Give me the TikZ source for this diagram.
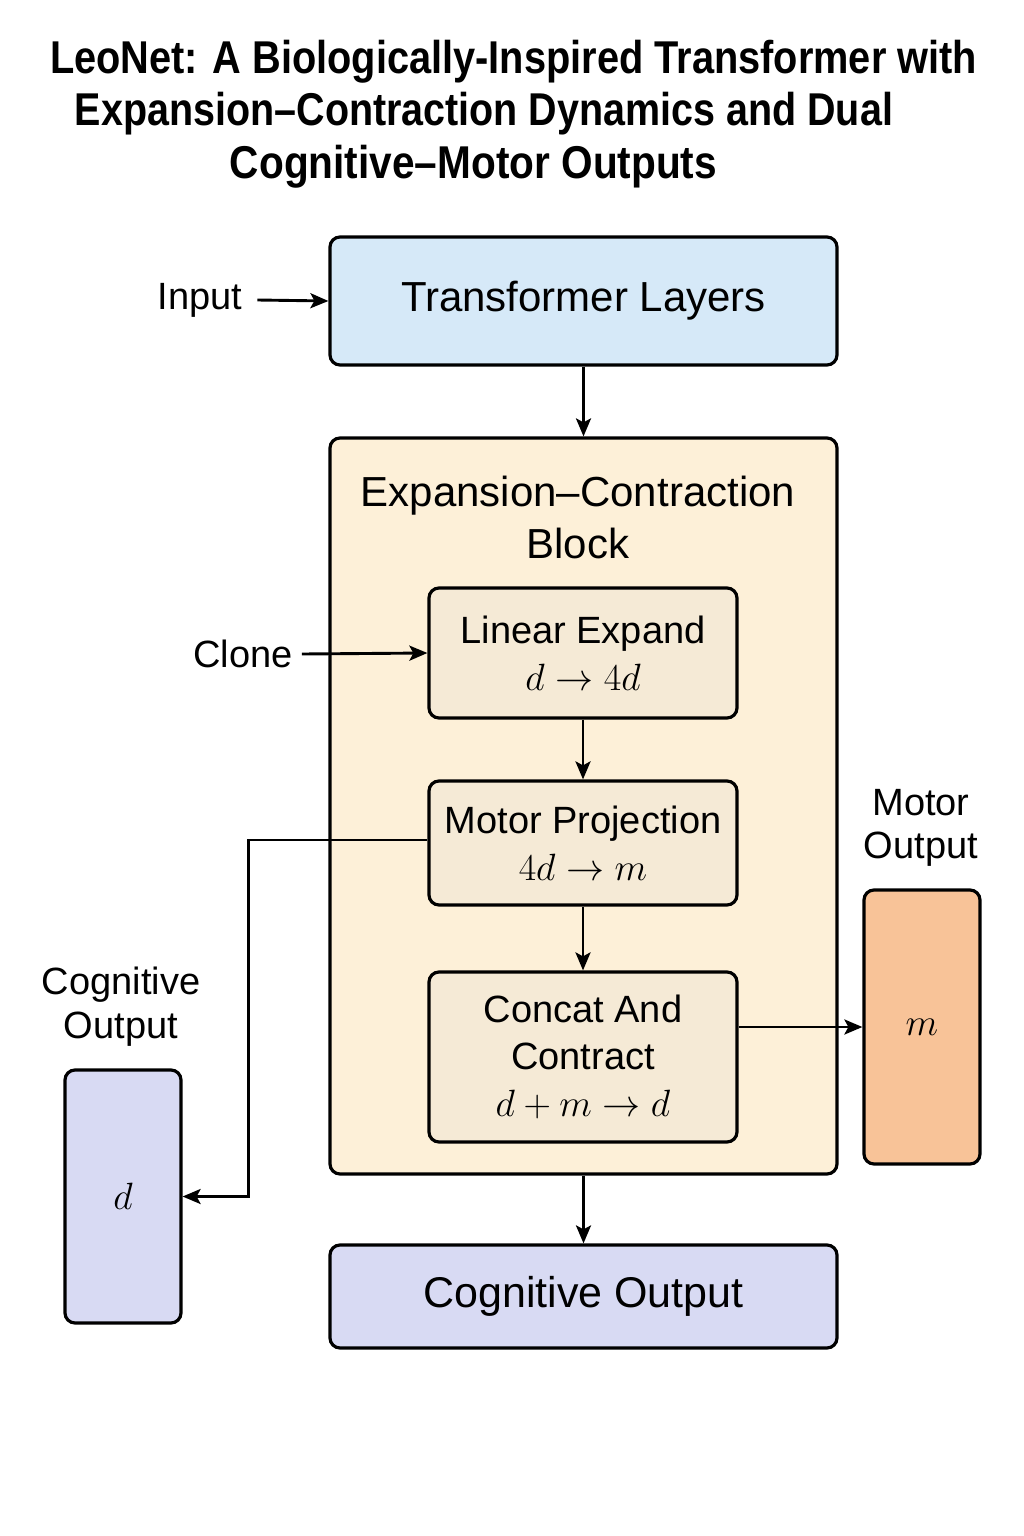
\RequirePackage{fix-cm}
\documentclass[tikz,border=0pt]{standalone}
\usepackage{fontspec}
\setmainfont{Liberation Sans}
\usetikzlibrary{arrows.meta}
\definecolor{tlblue}{RGB}{214,233,248}
\definecolor{blockcream}{RGB}{253,240,216}
\definecolor{innerbeige}{RGB}{245,234,214}
\definecolor{motororange}{RGB}{248,195,152}
\definecolor{coglav}{RGB}{216,218,243}
\tikzset{
  boxstyle/.style={draw=black, line width=3.2pt, rounded corners=10pt, align=center, inner sep=0pt},
  bigtext/.style={font=\fontsize{42}{52}\selectfont},
  midtext/.style={font=\fontsize{38}{47}\selectfont},
  lbl/.style={align=center, inner sep=0pt, midtext},
  arr/.style={line width=2.9pt, -{Stealth[length=18pt,width=15pt,inset=4pt]}},
  titletext/.style={inner sep=0pt, font=\fontsize{46}{52}\bfseries\selectfont}
}
\begin{document}
\begin{tikzpicture}[x=1pt,y=-1pt]
\useasboundingbox (0,0) rectangle (1024,1536);
\fill[white] (0,0) rectangle (1024,1536);
% title
\node[titletext] (t1) at (513.5,62) {\resizebox{927pt}{\height}{LeoNet: A Biologically-Inspired Transformer with}};
\node[titletext] (t2) at (484,114) {\resizebox{818pt}{\height}{Expansion–Contraction Dynamics and Dual}};
\node[titletext] (t3) at (473.5,167) {\resizebox{487pt}{\height}{Cognitive–Motor Outputs}};
% boxes
\node[boxstyle, fill=tlblue, minimum width=507pt, minimum height=128pt, bigtext] (tl) at (583.5,301) {Transformer Layers};
\node[boxstyle, fill=blockcream, minimum width=507pt, minimum height=736pt] (blk) at (583.5,806) {};
\node[lbl, bigtext] (blkl) at (578,517) {Expansion–Contraction\\Block};
\node[boxstyle, fill=innerbeige, minimum width=308pt, minimum height=130pt, midtext] (le) at (583,653) {Linear Expand\\$d \to 4d$};
\node[boxstyle, fill=innerbeige, minimum width=308pt, minimum height=124pt, midtext] (mp) at (583,843) {Motor Projection\\$4d \to m$};
\node[boxstyle, fill=innerbeige, minimum width=308pt, minimum height=170pt, midtext] (cc) at (583,1057) {Concat And\\Contract\\$d + m \to d$};
\node[boxstyle, fill=motororange, minimum width=116pt, minimum height=274pt, midtext] (mo) at (922,1027) {$m$};
\node[boxstyle, fill=coglav, minimum width=116pt, minimum height=253pt, midtext] (cl) at (123,1196.5) {$d$};
\node[boxstyle, fill=coglav, minimum width=507pt, minimum height=103pt, font=\fontsize{43}{52}\selectfont] (co) at (583.5,1296.5) {Cognitive Output};
% labels
\node[lbl] (inp) at (200,300) {Input};
\node[lbl] (cln) at (243,654) {Clone};
\node[lbl, font=\fontsize{38}{43}\selectfont] (mol) at (921,828) {Motor\\Output};
\node[lbl, font=\fontsize{38}{44}\selectfont] (cogl) at (121,1007) {Cognitive\\Output};
% connectors
\draw[arr] ([xshift=15pt]inp.east) -- (tl.west);
\draw[arr] (tl.south) -- (blk.north);
\draw[arr] ([xshift=9pt]cln.east) -- (le.west);
\draw[arr] (le.south) -- (mp.north);
\draw[arr] (mp.south) -- (cc.north);
\draw[arr] ([yshift=3pt]mp.west) -- ++(-179,0) coordinate (bend) |- (cl.east);
\draw[arr] (cc.east |- mo.west) -- (mo.west);
\draw[arr] (blk.south) -- (co.north);
\end{tikzpicture}
\end{document}
